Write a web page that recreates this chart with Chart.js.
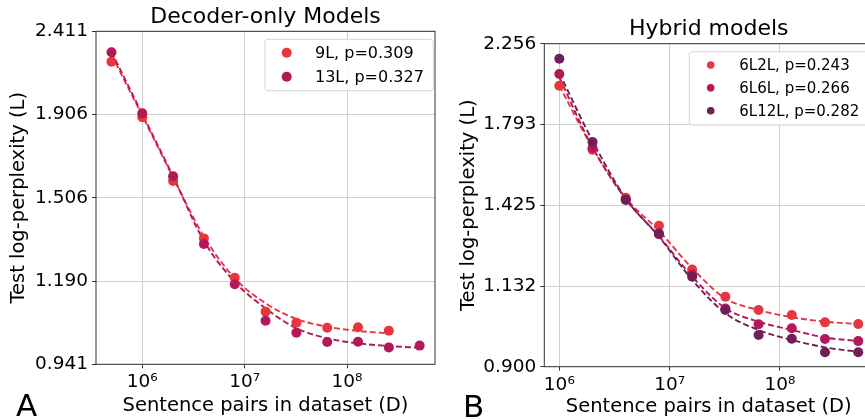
<!DOCTYPE html>
<html><head><meta charset="utf-8">
<script src="https://cdn.jsdelivr.net/npm/chart.js@4.4.1/dist/chart.umd.min.js"></script>
<style>
html,body{margin:0;padding:0;background:#fff;overflow:hidden;width:865px;height:419px;}
#c1{position:absolute;left:0;top:0;}
#c2{position:absolute;left:440px;top:0;}
</style></head><body>
<canvas id="c1" width="440" height="419"></canvas>
<canvas id="c2" width="440" height="419"></canvas>
<script>
// ---------- data: panel A (decoder-only) ----------
const sizesLeft = [5e5, 1e6, 2e6, 4e6, 8e6, 1.6e7, 3.2e7, 6.4e7, 1.28e8, 2.56e8, 5.12e8];
const loss9L    = [2.213, 1.891, 1.580, 1.343, 1.202, 1.092, 1.058, 1.0435, 1.045, 1.0347];
const loss13L   = [2.272, 1.912, 1.601, 1.322, 1.180, 1.064, 1.029, 1.002, 1.003, 0.987, 0.992];
const fit9L     = [2.256, 1.900, 1.596, 1.350, 1.200, 1.118, 1.0695, 1.0465, 1.034, 1.027];
const fit13L    = [2.275, 1.908, 1.600, 1.333, 1.188, 1.102, 1.042, 1.0128, 0.9985, 0.991, 0.986];
const labelsLeft = ['9L, p=0.309', '13L, p=0.327'];
const yTicksLeft = [0.941, 1.190, 1.506, 1.906, 2.411];

// ---------- data: panel B (hybrid) ----------
const sizesRight = [1e6, 2e6, 4e6, 8e6, 1.6e7, 3.2e7, 6.4e7, 1.28e8, 2.56e8, 5.12e8];
const loss6L2L   = [2.002, 1.668, 1.455, 1.344, 1.187, 1.098, 1.0575, 1.0425, 1.021, 1.016];
const loss6L6L   = [2.070, 1.677, 1.448, 1.312, 1.169, 1.062, 1.0153, 1.004, 0.974, 0.968];
const loss6L12L  = [2.161, 1.706, 1.446, 1.315, 1.1626, 1.0575, 0.985, 0.9747, 0.938, 0.938];
const fit6L2L    = [2.002, 1.677, 1.455, 1.325, 1.191, 1.093, 1.0575, 1.036, 1.023, 1.016];
const fit6L6L    = [2.050, 1.680, 1.450, 1.305, 1.163, 1.063, 1.023, 0.999, 0.978, 0.968];
const fit6L12L   = [2.075, 1.711, 1.452, 1.303, 1.152, 1.048, 0.999, 0.971, 0.951, 0.939];
const labelsRight = ['6L2L, p=0.243', '6L6L, p=0.266', '6L12L, p=0.282'];
const yTicksRight = [0.900, 1.132, 1.425, 1.793, 2.256];

const xTicks = [1e6, 1e7, 1e8];
const titles = ['Decoder-only Models', 'Hybrid models'];
const panelLetters = ['A', 'B'];
const xTitle = 'Sentence pairs in dataset (D)';
const yTitle = 'Test log-perplexity (L)';

const RED = '#e8363f', MAG = '#b2185a', DARK = '#6e1f56';
const FONT = '"DejaVu Sans", "Liberation Sans", sans-serif';
const SUP = {'0':'⁰','1':'¹','2':'²','3':'³','4':'⁴','5':'⁵','6':'⁶','7':'⁷','8':'⁸','9':'⁹'};
const supLabel = v => '10' + String(Math.round(Math.log10(v))).split('').map(c => SUP[c]).join('');

function pts(xs, ys) { return ys.map((y, i) => ({x: xs[i], y})); }

function scatterDs(label, xs, ys, color, order, r) {
  return {type: 'scatter', label, legend: true, data: pts(xs, ys), backgroundColor: color,
          borderColor: color, pointRadius: r, pointBorderWidth: 0, pointHoverRadius: r, showLine: false, order};
}
function fitDs(xs, ys, color, order) {
  return {type: 'line', label: '', legend: false, data: pts(xs, ys), borderColor: color, backgroundColor: color,
          borderWidth: 1.9, borderDash: [6, 3], pointRadius: 0, fill: false,
          cubicInterpolationMode: 'monotone', order};
}

const frame = {
  id: 'frame',
  afterDatasetsDraw(chart) {
    const a = chart.chartArea, ctx = chart.ctx;
    ctx.save(); ctx.strokeStyle = '#333'; ctx.lineWidth = 1;
    ctx.strokeRect(a.left, a.top, a.right - a.left, a.bottom - a.top);
    ctx.restore();
  }
};
const boxLegend = {
  id: 'boxLegend',
  afterDraw(chart, args, o) {
    const ctx = chart.ctx;
    ctx.save();
    ctx.beginPath();
    ctx.roundRect(o.x, o.y, o.w, o.h, 3);
    ctx.fillStyle = 'rgba(255,255,255,0.85)'; ctx.fill();
    ctx.strokeStyle = '#d6d6d6'; ctx.lineWidth = 1; ctx.stroke();
    const items = chart.data.datasets.filter(d => d.legend);
    items.forEach((d, i) => {
      const y = o.rowY + i * o.rowGap;
      ctx.beginPath(); ctx.arc(o.markerX, y, o.markerR, 0, Math.PI * 2);
      ctx.fillStyle = d.backgroundColor; ctx.fill();
      ctx.font = o.fontSize + 'px ' + FONT; ctx.fillStyle = '#000';
      ctx.textBaseline = 'middle'; ctx.textAlign = 'left';
      ctx.fillText(d.label, o.textX, y + 1);
    });
    ctx.restore();
  }
};
const panelLetter = {
  id: 'panelLetter',
  afterDraw(chart, args, o) {
    const ctx = chart.ctx;
    ctx.save(); ctx.font = '31px ' + FONT; ctx.fillStyle = '#000';
    ctx.textBaseline = 'alphabetic'; ctx.textAlign = 'left';
    ctx.fillText(o.text, o.x, o.y); ctx.restore();
  }
};

function makeChart(canvas, cfg) {
  return new Chart(canvas, {
    data: {datasets: cfg.datasets},
    options: {
      responsive: false, animation: false, devicePixelRatio: 1,
      layout: {padding: {left: 0, top: 0, right: cfg.padRight, bottom: 0}},
      plugins: {
        legend: {display: false}, tooltip: {enabled: false},
        title: {display: true, text: cfg.title, fullSize: false, color: '#000',
                font: {family: FONT, size: 22, weight: 'normal', lineHeight: 1.2},
                padding: {top: cfg.titlePadTop, bottom: cfg.titlePadBottom}},
        boxLegend: cfg.legend,
        panelLetter: cfg.letter
      },
      scales: {
        x: {type: 'logarithmic', position: 'bottom', min: cfg.xMin, max: cfg.xMax,
            afterFit: s => { s.height = cfg.xAxisH; },
            afterBuildTicks: s => { s.ticks = xTicks.map(v => ({value: v})); },
            ticks: {callback: v => supLabel(v), color: '#000', font: {family: FONT, size: 18.5}, padding: 3, maxRotation: 0, autoSkip: false},
            grid: {color: '#cfcfcf', lineWidth: 1, drawTicks: true, tickLength: 4, tickColor: '#333'},
            border: {display: false},
            title: {display: true, text: xTitle, color: '#000', font: {family: FONT, size: 19.5, lineHeight: 1.2},
                    padding: {top: 0, bottom: cfg.xTitlePadBottom}}},
        y: {type: 'logarithmic', position: 'left', min: cfg.yTicks[0], max: cfg.yTicks[cfg.yTicks.length - 1],
            afterFit: s => { s.width = cfg.yAxisW; },
            afterBuildTicks: s => { s.ticks = cfg.yTicks.map(v => ({value: v})); },
            ticks: {callback: v => Number(v).toFixed(3), color: '#000', font: {family: FONT, size: 18.5}, padding: 4, autoSkip: false},
            grid: {color: '#cfcfcf', lineWidth: 1, drawTicks: true, tickLength: 4, tickColor: '#333'},
            border: {display: false},
            title: {display: true, text: yTitle, color: '#000', font: {family: FONT, size: 19.5, lineHeight: 1.2},
                    padding: {top: cfg.yTitlePadTop, bottom: 0}}}
      }
    },
    plugins: [frame, boxLegend, panelLetter]
  });
}

makeChart(document.getElementById('c1'), {
  title: titles[0], padRight: 2.3, titlePadTop: 4, titlePadBottom: 0.9,
  xMin: 3.53e5, xMax: 7.23e8, xAxisH: 54.7, yAxisW: 96, yTicks: yTicksLeft,
  xTitlePadBottom: 1, yTitlePadTop: 7.5,
  legend: {x: 265, y: 39.3, w: 168.3, h: 51.4, markerX: 286.7, markerR: 5, textX: 315, rowY: 52.7, rowGap: 24, fontSize: 16},
  letter: {text: panelLetters[0], x: 16, y: 416},
  datasets: [
    scatterDs(labelsLeft[0], sizesLeft, loss9L, RED, 2, 5),
    scatterDs(labelsLeft[1], sizesLeft, loss13L, MAG, 1, 5),
    fitDs(sizesLeft, fit9L, RED, 4),
    fitDs(sizesLeft, fit13L, MAG, 3)
  ]
});

makeChart(document.getElementById('c2'), {
  title: titles[1], padRight: 6.8, titlePadTop: 15.8, titlePadBottom: 1.5,
  xMin: 7.31e5, xMax: 6.998e8, xAxisH: 52.3, yAxisW: 104.3, yTicks: yTicksRight,
  xTitlePadBottom: 0.3, yTitlePadTop: 17.5,
  legend: {x: 249.3, y: 51.7, w: 220, h: 73.3, markerX: 270.7, markerR: 3.8, textX: 299.3, rowY: 65, rowGap: 22.85, fontSize: 15},
  letter: {text: panelLetters[1], x: 23, y: 416.5},
  datasets: [
    scatterDs(labelsRight[0], sizesRight, loss6L2L, RED, 3, 5),
    scatterDs(labelsRight[1], sizesRight, loss6L6L, MAG, 2, 5),
    scatterDs(labelsRight[2], sizesRight, loss6L12L, DARK, 1, 5),
    fitDs(sizesRight, fit6L2L, RED, 6),
    fitDs(sizesRight, fit6L6L, MAG, 5),
    fitDs(sizesRight, fit6L12L, DARK, 4)
  ]
});
</script>
</body></html>
